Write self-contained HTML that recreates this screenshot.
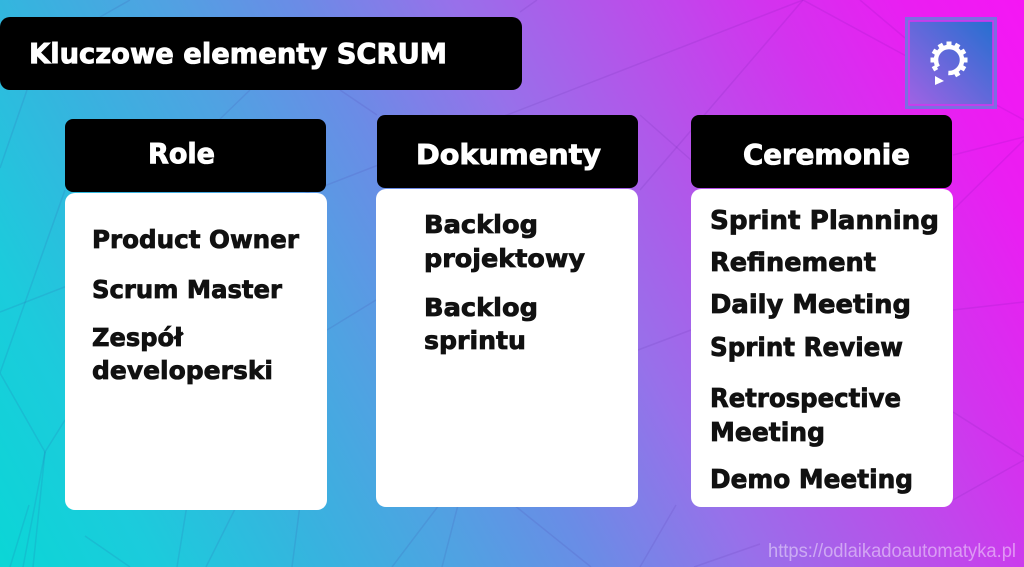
<!DOCTYPE html>
<html lang="pl">
<head>
<meta charset="utf-8">
<style>
  html,body{margin:0;padding:0;width:1024px;height:567px;overflow:hidden;}
  body{position:relative;
    background:linear-gradient(62deg,#0bd6d6 0%,#1ccbdc 12%,#38b2df 25%,#50a2e2 35%,#6a8ce6 45%,#9870ea 57%,#b652ea 69%,#d234ee 80%,#ea1ef2 91%,#f616f4 100%);}
  svg{position:absolute;left:0;top:0;display:block;overflow:hidden;}
  .t{font-family:"DejaVu Sans","Liberation Sans",sans-serif;font-weight:bold;}
</style>
</head>
<body>
<svg width="1024" height="567" viewBox="0 0 1024 567" xmlns="http://www.w3.org/2000/svg">
  <defs>
    <linearGradient id="lg" x1="0" y1="1" x2="1" y2="0">
      <stop offset="0" stop-color="#a062e4"/>
      <stop offset="1" stop-color="#256fd0"/>
    </linearGradient>
  </defs>

  <!-- low-poly background lines -->
  <g stroke="#3a1080" stroke-opacity="0.09" stroke-width="1.5" fill="none">
    <line x1="803" y1="0" x2="0" y2="312"/>
    <line x1="803" y1="0" x2="640" y2="190"/>
    <line x1="803" y1="0" x2="1024" y2="120"/>
    <line x1="537" y1="0" x2="520" y2="12"/>
    <line x1="514" y1="505" x2="591" y2="567"/>
    <line x1="676" y1="505" x2="640" y2="567"/>
    <line x1="760" y1="544" x2="694" y2="567"/>
    <line x1="439" y1="505" x2="392" y2="567"/>
    <line x1="458" y1="505" x2="442" y2="567"/>
    <line x1="300" y1="505" x2="292" y2="567"/>
    <line x1="237" y1="505" x2="206" y2="567"/>
    <line x1="187" y1="505" x2="177" y2="567"/>
    <line x1="85" y1="536" x2="130" y2="567"/>
    <line x1="29" y1="505" x2="10" y2="567"/>
    <line x1="27" y1="90" x2="0" y2="168"/>
    <line x1="65" y1="190" x2="0" y2="373"/>
    <line x1="0" y1="373" x2="45" y2="452"/>
    <line x1="45" y1="452" x2="23" y2="567"/>
    <line x1="45" y1="452" x2="33" y2="567"/>
    <line x1="45" y1="452" x2="65" y2="420"/>
    <line x1="953" y1="155" x2="1024" y2="137"/>
    <line x1="953" y1="210" x2="1024" y2="140"/>
    <line x1="953" y1="310" x2="1024" y2="302"/>
    <line x1="953" y1="412" x2="1024" y2="457"/>
    <line x1="953" y1="500" x2="1024" y2="460"/>
    <line x1="860" y1="0" x2="905" y2="38"/>
    <line x1="130" y1="0" x2="100" y2="17"/>
    <line x1="250" y1="90" x2="220" y2="119"/>
    <line x1="340" y1="90" x2="377" y2="115"/>
    <line x1="640" y1="115" x2="691" y2="160"/>
    <line x1="327" y1="330" x2="376" y2="300"/>
    <line x1="638" y1="350" x2="691" y2="330"/>
  </g>

  <!-- Title -->
  <rect x="0" y="17" width="522" height="73" rx="10" fill="#000"/>
  <text class="t" x="29" y="63" font-size="28" fill="#fff" stroke="#fff" stroke-width="0.9" textLength="418" lengthAdjust="spacingAndGlyphs">Kluczowe elementy SCRUM</text>

  <!-- Logo -->
  <rect x="905" y="17" width="92" height="92" fill="#7c6ee2"/>
  <rect x="909" y="21" width="84" height="84" fill="url(#lg)" stroke="#d236ef" stroke-width="1.6"/>
  <g fill="#fff">
    <circle cx="949" cy="60" r="13" fill="none" stroke="#fff" stroke-width="4.5" stroke-dasharray="21 12.5 48.2 0"/>
    <g transform="translate(949 60)">
      <rect x="14" y="-2.5" width="4.5" height="5" transform="rotate(0)"/>
      <rect x="14" y="-2.5" width="4.5" height="5" transform="rotate(30)"/>
      <rect x="14" y="-2.5" width="4.5" height="5" transform="rotate(60)"/>
      <rect x="14" y="-2.5" width="4.5" height="5" transform="rotate(180)"/>
      <rect x="14" y="-2.5" width="4.5" height="5" transform="rotate(210)"/>
      <rect x="14" y="-2.5" width="4.5" height="5" transform="rotate(240)"/>
      <rect x="14" y="-2.5" width="4.5" height="5" transform="rotate(270)"/>
      <rect x="14" y="-2.5" width="4.5" height="5" transform="rotate(300)"/>
      <rect x="14" y="-2.5" width="4.5" height="5" transform="rotate(330)"/>
      <rect x="14" y="-2.5" width="4.5" height="5" transform="rotate(150)"/>
    </g>
    <polygon points="935,76 944,81 935,85"/>
  </g>

  <!-- Column: Role -->
  <rect x="65" y="119" width="261" height="73" rx="8" fill="#000"/>
  <rect x="65" y="193" width="262" height="317" rx="10" fill="#fff"/>
  <text class="t" x="148" y="163" font-size="28" fill="#fff" stroke="#fff" stroke-width="0.9" textLength="67" lengthAdjust="spacingAndGlyphs">Role</text>
  <g class="t" font-size="25" fill="#111" stroke="#111" stroke-width="0.8">
    <text x="92" y="248" textLength="207" lengthAdjust="spacingAndGlyphs">Product Owner</text>
    <text x="92" y="298" textLength="190" lengthAdjust="spacingAndGlyphs">Scrum Master</text>
    <text x="92" y="346" textLength="91" lengthAdjust="spacingAndGlyphs">Zespół</text>
    <text x="92" y="379" textLength="181" lengthAdjust="spacingAndGlyphs">developerski</text>
  </g>

  <!-- Column: Dokumenty -->
  <rect x="377" y="115" width="261" height="73" rx="8" fill="#000"/>
  <rect x="376" y="189" width="262" height="318" rx="10" fill="#fff"/>
  <text class="t" x="416" y="164" font-size="28" fill="#fff" stroke="#fff" stroke-width="0.9" textLength="185" lengthAdjust="spacingAndGlyphs">Dokumenty</text>
  <g class="t" font-size="25" fill="#111" stroke="#111" stroke-width="0.8">
    <text x="424" y="233" textLength="114" lengthAdjust="spacingAndGlyphs">Backlog</text>
    <text x="424" y="267" textLength="161" lengthAdjust="spacingAndGlyphs">projektowy</text>
    <text x="424" y="316" textLength="114" lengthAdjust="spacingAndGlyphs">Backlog</text>
    <text x="424" y="349" textLength="102" lengthAdjust="spacingAndGlyphs">sprintu</text>
  </g>

  <!-- Column: Ceremonie -->
  <rect x="691" y="115" width="261" height="73" rx="8" fill="#000"/>
  <rect x="691" y="189" width="262" height="318" rx="10" fill="#fff"/>
  <text class="t" x="743" y="164" font-size="28" fill="#fff" stroke="#fff" stroke-width="0.9" textLength="167" lengthAdjust="spacingAndGlyphs">Ceremonie</text>
  <g class="t" font-size="25.5" fill="#111" stroke="#111" stroke-width="0.8">
    <text x="710" y="229" textLength="229" lengthAdjust="spacingAndGlyphs">Sprint Planning</text>
    <text x="710" y="271" textLength="166" lengthAdjust="spacingAndGlyphs">Refinement</text>
    <text x="710" y="313" textLength="201" lengthAdjust="spacingAndGlyphs">Daily Meeting</text>
    <text x="710" y="356" textLength="193" lengthAdjust="spacingAndGlyphs">Sprint Review</text>
    <text x="710" y="407" textLength="191" lengthAdjust="spacingAndGlyphs">Retrospective</text>
    <text x="710" y="441" textLength="115" lengthAdjust="spacingAndGlyphs">Meeting</text>
    <text x="710" y="488" textLength="203" lengthAdjust="spacingAndGlyphs">Demo Meeting</text>
  </g>

  <!-- URL -->
  <text x="768" y="557" font-family="Liberation Sans, sans-serif" font-size="19" fill="#fff" fill-opacity="0.45" textLength="248" lengthAdjust="spacingAndGlyphs">https://odlaikadoautomatyka.pl</text>
</svg>
</body>
</html>
